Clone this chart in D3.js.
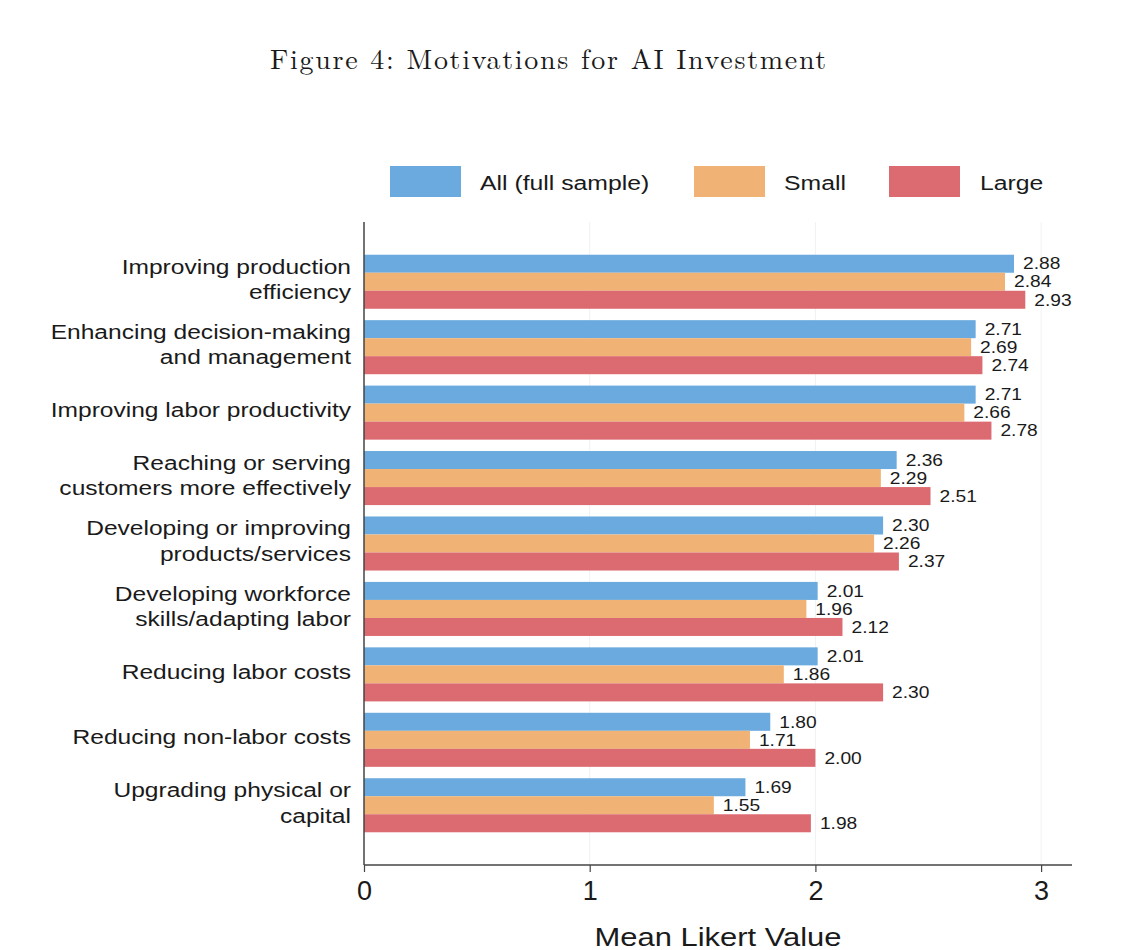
<!DOCTYPE html>
<html>
<head>
<meta charset="utf-8">
<script src="https://cdn.jsdelivr.net/npm/d3@7"></script>
<style>
  body { margin: 0; background: #fff; }
  text { font-family: "Liberation Sans", Arial, sans-serif; fill: #1a1a1a; }
</style>
</head>
<body>
<script>
const categories = [
    "Improving production|efficiency",
    "Enhancing decision-making|and management",
    "Improving labor productivity",
    "Reaching or serving|customers more effectively",
    "Developing or improving|products/services",
    "Developing workforce|skills/adapting labor",
    "Reducing labor costs",
    "Reducing non-labor costs",
    "Upgrading physical or|capital"
];
const seriesNames = ["All (full sample)", "Small", "Large"];
const allValues   = [2.88, 2.71, 2.71, 2.36, 2.30, 2.01, 2.01, 1.80, 1.69];
const smallValues = [2.84, 2.69, 2.66, 2.29, 2.26, 1.96, 1.86, 1.71, 1.55];
const largeValues = [2.93, 2.74, 2.78, 2.51, 2.37, 2.12, 2.30, 2.00, 1.98];
const xTicks = [0, 1, 2, 3];
const colors = ["#6aaade", "#f0b275", "#dc6b71"];

const seriesValues = [allValues, smallValues, largeValues];

const svgWidth = 1146;
const svgHeight = 950;
const svg = d3.select("body")
    .append("svg")
    .attr("width", svgWidth)
    .attr("height", svgHeight);

const plotLeft = 364, plotRight = 1072, plotTop = 222, plotBottom = 865;

// the source text is a bit wider than Liberation Sans, stretch horizontally around x
const stretch = (x0, sx) => `translate(${x0},0) scale(${sx},1) translate(${-x0},0)`;

const x = d3.scaleLinear().domain([0, 3]).range([plotLeft, plotLeft + 3 * 225.7]);
const y = d3.scaleBand().domain(categories).range([plotTop, plotBottom])
    .paddingInner(0.174).paddingOuter(0.5);
const ySub = d3.scaleBand().domain(d3.range(3)).range([0, y.bandwidth()]);

// title
svg.append("text")
    .attr("x", 549).attr("y", 69)
    .attr("text-anchor", "middle")
    .style("font-family", "'Latin Modern Roman', 'DejaVu Serif', serif")
    .style("font-size", "28px")
    .style("letter-spacing", "1.7px")
    .text("Figure 4: Motivations for AI Investment");

// gridlines
svg.append("g").selectAll("line")
    .data(xTicks.slice(1))
    .enter().append("line")
    .attr("x1", d => x(d)).attr("x2", d => x(d))
    .attr("y1", plotTop).attr("y2", plotBottom)
    .attr("stroke", "#eef2f5").attr("stroke-width", 1);

// bars
const groups = svg.append("g").selectAll("g")
    .data(categories)
    .enter().append("g")
    .attr("transform", d => `translate(0, ${y(d)})`);

groups.each(function(cat, ci) {
    const g = d3.select(this);
    seriesValues.forEach((vals, si) => {
        g.append("rect")
            .attr("x", x(0))
            .attr("y", ySub(si))
            .attr("width", x(vals[ci]) - x(0))
            .attr("height", ySub.bandwidth())
            .attr("fill", colors[si]);
        const lx = x(vals[ci]) + 9;
        g.append("text")
            .attr("x", lx)
            .attr("y", ySub(si) + ySub.bandwidth() / 2)
            .attr("dy", "0.36em")
            .attr("transform", stretch(lx, 1.2))
            .style("font-size", "16px")
            .text(vals[ci].toFixed(2));
    });
});

// category labels
groups.append("text")
    .attr("text-anchor", "end")
    .attr("transform", stretch(351, 1.17))
    .style("font-size", "21px")
    .each(function(d) {
        const lines = d.split("|");
        const cy = y.bandwidth() / 2 - 3;
        const t = d3.select(this);
        lines.forEach((line, i) => {
            t.append("tspan")
                .attr("x", 351)
                .attr("y", cy + (i - (lines.length - 1) / 2) * 25.5)
                .attr("dy", "0.36em")
                .text(line);
        });
    });

// axes
svg.append("line")
    .attr("x1", plotLeft).attr("x2", plotLeft)
    .attr("y1", plotTop).attr("y2", plotBottom)
    .attr("stroke", "#444").attr("stroke-width", 1.5);

const xAxis = svg.append("g")
    .attr("transform", `translate(0, ${plotBottom})`)
    .call(d3.axisBottom(x).tickValues(xTicks).tickFormat(d3.format("d")).tickSize(7).tickPadding(9));
xAxis.select(".domain").attr("d", `M${plotLeft},0H${plotRight}`).attr("stroke", "#444").attr("stroke-width", 1.5);
xAxis.selectAll(".tick line").attr("stroke", "#444").attr("stroke-width", 1.2);
xAxis.selectAll(".tick text")
    .style("font-family", "'Liberation Sans', Arial, sans-serif")
    .style("font-size", "27px")
    .attr("fill", "#1a1a1a");

const mid = (plotLeft + plotRight) / 2;
svg.append("text")
    .attr("x", mid).attr("y", 946)
    .attr("text-anchor", "middle")
    .attr("transform", stretch(mid, 1.19))
    .style("font-size", "26px")
    .text("Mean Likert Value");

// legend
const legend = svg.append("g").selectAll("g")
    .data(seriesNames)
    .enter().append("g")
    .attr("transform", (d, i) => `translate(${[390, 694, 889][i]}, 166)`);

legend.append("rect")
    .attr("width", 71).attr("height", 31)
    .attr("fill", (d, i) => colors[i]);

legend.append("text")
    .attr("x", (d, i) => [90, 90, 91][i])
    .attr("y", 16).attr("dy", "0.36em")
    .attr("transform", (d, i) => stretch([90, 90, 91][i], 1.18))
    .style("font-size", "21px")
    .text(d => d);
</script>
</body>
</html>
